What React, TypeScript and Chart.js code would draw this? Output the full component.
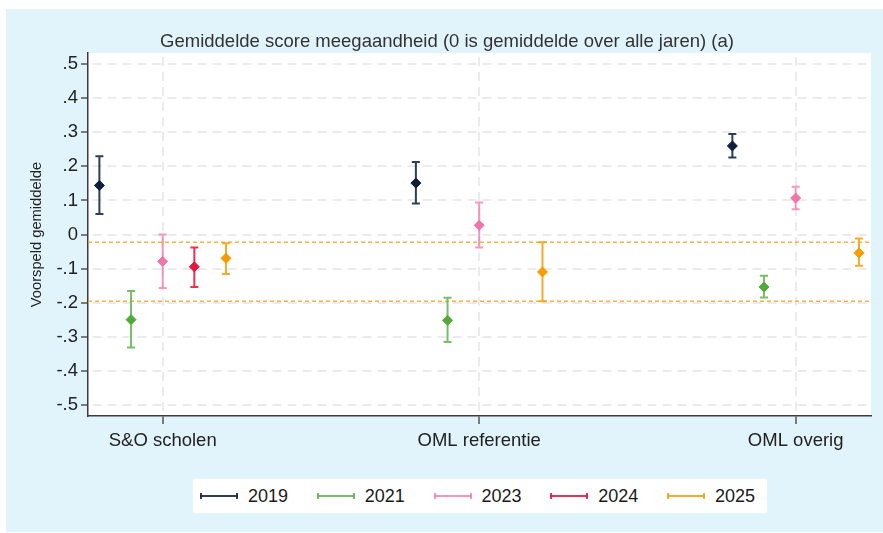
import React, { useEffect, useRef } from "react";
import { Chart, registerables } from "chart.js";

Chart.register(...registerables);

const chartTitle = "Gemiddelde score meegaandheid (0 is gemiddelde over alle jaren) (a)";
const yAxisTitle = "Voorspeld gemiddelde";

const categories = ["S&O scholen", "OML referentie", "OML overig"];
const years = ["2019", "2021", "2023", "2024", "2025"];

// point estimates and confidence bounds per category
const mean2019 = [0.144, 0.151, 0.26];
const lo2019 = [0.06, 0.091, 0.226];
const hi2019 = [0.23, 0.213, 0.295];

const mean2021 = [-0.25, -0.252, -0.154];
const lo2021 = [-0.332, -0.316, -0.185];
const hi2021 = [-0.166, -0.186, -0.121];

const mean2023 = [-0.079, 0.027, 0.107];
const lo2023 = [-0.157, -0.038, 0.074];
const hi2023 = [0.0, 0.094, 0.14];

const mean2024 = [-0.095, null, null];
const lo2024 = [-0.154, null, null];
const hi2024 = [-0.038, null, null];

const mean2025 = [-0.07, -0.11, -0.054];
const lo2025 = [-0.116, -0.196, -0.092];
const hi2025 = [-0.026, -0.023, -0.012];

const yTickValues = [0.5, 0.4, 0.3, 0.2, 0.1, 0, -0.1, -0.2, -0.3, -0.4, -0.5];
const yTickLabels = [".5", ".4", ".3", ".2", ".1", "0", "-.1", "-.2", "-.3", "-.4", "-.5"];

const referenceLines = [-0.023, -0.196];

const seriesMeans = [mean2019, mean2021, mean2023, mean2024, mean2025];
const seriesLo = [lo2019, lo2021, lo2023, lo2024, lo2025];
const seriesHi = [hi2019, hi2021, hi2023, hi2024, hi2025];

// styling
const FONT = "'Liberation Sans', Arial, Helvetica, sans-serif";
const markerColors = ["#0f1f3d", "#52ab38", "#f075aa", "#e5173e", "#f59c00"];
const barColors = [
  "rgba(24,40,70,0.9)",
  "rgba(95,180,75,0.85)",
  "rgba(242,125,172,0.8)",
  "rgba(228,28,64,0.9)",
  "rgba(246,162,20,0.9)",
];
const yearOffsets = [-0.2, -0.1, 0, 0.1, 0.2];

const plotBgPlugin = {
  id: "plotBg",
  beforeDraw(chart: any) {
    const { ctx, chartArea } = chart;
    ctx.save();
    ctx.fillStyle = "#ffffff";
    ctx.fillRect(chartArea.left, chartArea.top, chartArea.right - chartArea.left, chartArea.bottom - chartArea.top);
    ctx.restore();
  },
};

const refLinePlugin = {
  id: "refLines",
  beforeDatasetsDraw(chart: any) {
    const { ctx, chartArea, scales } = chart;
    ctx.save();
    ctx.strokeStyle = "rgba(245,165,35,0.85)";
    ctx.lineWidth = 1.5;
    ctx.setLineDash([4, 3]);
    referenceLines.forEach((v) => {
      const y = scales.y.getPixelForValue(v);
      ctx.beginPath();
      ctx.moveTo(chartArea.left, y);
      ctx.lineTo(chartArea.right, y);
      ctx.stroke();
    });
    ctx.restore();
  },
};

const errorBarPlugin = {
  id: "errorBars",
  beforeDatasetsDraw(chart: any) {
    const { ctx, scales } = chart;
    ctx.save();
    ctx.setLineDash([]);
    chart.data.datasets.forEach((ds: any, i: number) => {
      ctx.strokeStyle = barColors[i];
      ctx.lineWidth = 2;
      ds.data.forEach((d: any) => {
        const x = scales.x.getPixelForValue(d.x);
        const yl = scales.y.getPixelForValue(d.lo);
        const yh = scales.y.getPixelForValue(d.hi);
        ctx.beginPath();
        ctx.moveTo(x, yl);
        ctx.lineTo(x, yh);
        ctx.moveTo(x - 4, yl);
        ctx.lineTo(x + 4, yl);
        ctx.moveTo(x - 4, yh);
        ctx.lineTo(x + 4, yh);
        ctx.stroke();
      });
    });
    ctx.restore();
  },
};

const titlePlugin = {
  id: "customTitle",
  afterDraw(chart: any) {
    const { ctx } = chart;
    ctx.save();
    ctx.font = `18.5px ${FONT}`;
    ctx.fillStyle = "#333333";
    ctx.textAlign = "center";
    ctx.textBaseline = "alphabetic";
    ctx.fillText(chartTitle, 447, 46.5);
    ctx.restore();
  },
};

function LegendItem({ label, index }: { label: string; index: number }) {
  const c = barColors[index];
  return (
    <div style={{ position: "absolute", left: 7 + index * 116.75, top: 0, height: 34, display: "flex", alignItems: "center" }}>
      <div style={{ position: "relative", width: 38, height: 2, background: c }}>
        <div style={{ position: "absolute", left: 0, top: -2, width: 2, height: 6, background: c }} />
        <div style={{ position: "absolute", right: 0, top: -2, width: 2, height: 6, background: c }} />
      </div>
      <span style={{ marginLeft: 10, fontFamily: FONT, fontSize: 18, color: "#1a1a1a", lineHeight: "34px" }}>{label}</span>
    </div>
  );
}

export default function App() {
  const canvasRef = useRef<HTMLCanvasElement | null>(null);

  useEffect(() => {
    if (!canvasRef.current) return;
    const datasets = years.map((yr, i) => ({
      label: yr,
      data: categories
        .map((_, j) =>
          seriesMeans[i][j] == null
            ? null
            : { x: j + 1 + yearOffsets[i], y: seriesMeans[i][j], lo: seriesLo[i][j], hi: seriesHi[i][j] }
        )
        .filter((d) => d !== null),
      showLine: false,
      pointStyle: "rectRot",
      pointRadius: 5,
      pointHoverRadius: 5,
      backgroundColor: markerColors[i],
      borderColor: markerColors[i],
      borderWidth: 1,
    }));

    const chart = new Chart(canvasRef.current, {
      type: "scatter",
      data: { datasets: datasets as any },
      options: {
        animation: false,
        responsive: false,
        devicePixelRatio: 1,
        layout: { padding: { top: 53, right: 12, bottom: 0, left: 0 } },
        plugins: {
          legend: { display: false },
          tooltip: { enabled: false },
          title: { display: false },
        },
        scales: {
          x: {
            type: "linear",
            min: 0.764,
            max: 3.238,
            afterBuildTicks: (scale: any) => {
              scale.ticks = categories.map((_, i) => ({ value: i + 1 }));
            },
            afterFit: (scale: any) => {
              scale.height = 117;
            },
            ticks: {
              autoSkip: false,
              maxRotation: 0,
              padding: 6,
              font: { family: FONT, size: 18.5 },
              color: "#222222",
              callback: (_v: any, index: number) => categories[index],
            },
            grid: {
              color: "#ebebeb",
              lineWidth: 2,
              tickColor: "#555555",
              tickLength: 8,
              tickWidth: 1.5,
            },
            border: { display: true, color: "#3c3c3c", width: 1.5, dash: [9, 6], dashOffset: -4 },
          },
          y: {
            type: "linear",
            min: -0.533,
            max: 0.533,
            afterBuildTicks: (scale: any) => {
              scale.ticks = yTickValues.map((v) => ({ value: v }));
            },
            afterFit: (scale: any) => {
              scale.width = 88;
            },
            ticks: {
              autoSkip: false,
              padding: 3,
              font: { family: FONT, size: 18.5 },
              color: "#222222",
              callback: (_v: any, index: number) => yTickLabels[index],
            },
            grid: {
              color: "#ebebeb",
              lineWidth: 2,
              tickColor: "#555555",
              tickLength: 7,
              tickWidth: 1.5,
            },
            border: { display: true, color: "#3c3c3c", width: 1.5, dash: [9, 6], dashOffset: -4 },
            title: {
              display: true,
              text: yAxisTitle,
              font: { family: FONT, size: 14.7 },
              color: "#222222",
              padding: { top: 28, bottom: 0 },
            },
          },
        },
      },
      plugins: [plotBgPlugin, refLinePlugin, errorBarPlugin, titlePlugin],
    });
    return () => chart.destroy();
  }, []);

  return (
    <div style={{ position: "absolute", left: 0, top: 0, width: 883, height: 533, background: "#ffffff", overflow: "hidden" }}>
      <div style={{ position: "absolute", left: 6, top: 9, width: 877, height: 523, background: "#e1f3fb" }} />
      <canvas ref={canvasRef} width={883} height={533} style={{ position: "absolute", left: 0, top: 0, width: 883, height: 533 }} />
      <div style={{ position: "absolute", left: 193, top: 479, width: 574, height: 34, background: "#ffffff" }}>
        {years.map((yr, i) => (
          <LegendItem key={yr} label={yr} index={i} />
        ))}
      </div>
    </div>
  );
}
